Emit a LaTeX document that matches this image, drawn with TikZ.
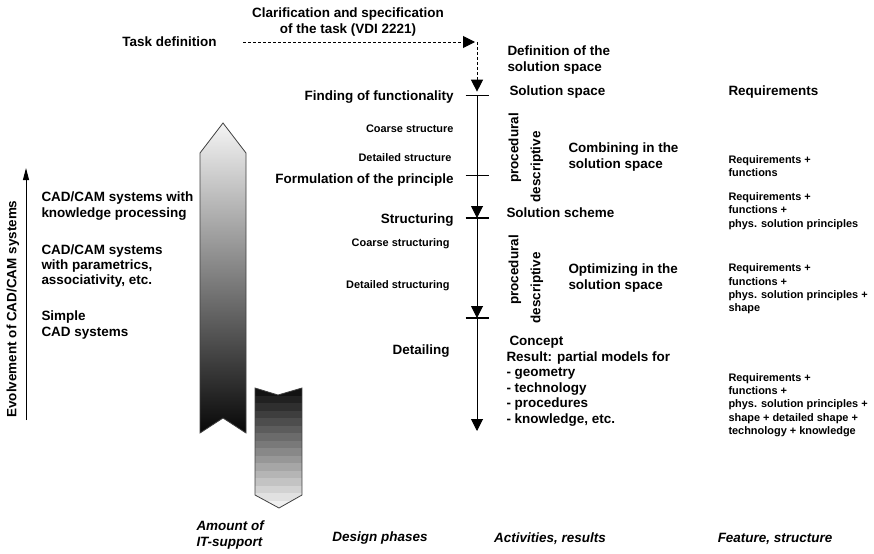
\documentclass[tikz,border=0pt]{standalone}
\usepackage{fontspec}
\setmainfont{Liberation Sans}
\usetikzlibrary{arrows.meta}

\tikzset{every picture/.style={line width=0.75pt}}
\tikzset{
  bigtext/.style={font=\fontsize{10.1}{11.6}\selectfont\bfseries, inner sep=0.75pt},
  smalltext/.style={font=\fontsize{8.2}{10}\selectfont\bfseries, inner sep=0.75pt},
  labeltext/.style={font=\fontsize{10.1}{11.6}\selectfont\bfseries\itshape, inner sep=0.75pt},
  tiptri/.style={-{Triangle[width=9pt,length=9pt]}},
  thicktick/.style={line width=1.6pt},
  arrowrim/.style={draw=black!75, line width=0.6pt},
}

\begin{document}
\begin{tikzpicture}[x=0.75pt,y=0.75pt,yscale=-1,xscale=1]
\useasboundingbox (0,0) rectangle (874,553);

%Coordinates of the phase line
\coordinate (dstart) at (243,42);
\coordinate (corner) at (477,42);
\coordinate (t0) at (477,95);
\coordinate (t1) at (477,175);
\coordinate (t2) at (477,218);
\coordinate (t3) at (477,318);
\coordinate (tend) at (477,431);

%Dashed Lines
\draw [dash pattern={on 2.25pt off 1.5pt}, tiptri, shorten >=1.5] (dstart) -- (corner);
\draw [dash pattern={on 2.25pt off 1.5pt}, tiptri, shorten >=2.5] (corner) -- (t0);

%Straight Lines
\draw [tiptri] (t0) -- (t2);
\draw [tiptri] (t2) -- (t3);
\draw [tiptri] (t3) -- (tend);
\draw (t0) ++(-11.5,0) -- ++(23,0);
\draw (t1) ++(-11.5,0) -- ++(23,0);
\draw [thicktick] (t2) ++(-11.5,0) -- ++(23,0);
\draw [thicktick] (t3) ++(-11.5,0) -- ++(23,0);

%Shape: Up Arrow
\shade [top color=black!4, bottom color=black!97] (223,123) -- (246,153) -- (246,433) -- (223,418) -- (200,433) -- (200,153) -- cycle;
\draw [arrowrim] (223,123) -- (246,153) -- (246,433) -- (223,418) -- (200,433) -- (200,153) -- cycle;

%Shape: Down Arrow
\begin{scope}
\clip (255,388) -- (278,395) -- (302,388) -- (302,495) -- (279,508) -- (255,495) -- cycle;
\foreach \i in {0,...,15} {
  \pgfmathsetmacro\bandval{93-5.8*\i}
  \fill [black!\bandval] (255,388+7.5*\i) rectangle (302,396+7.5*\i);
}
\end{scope}
\draw [arrowrim] (255,388) -- (278,395) -- (302,388) -- (302,495) -- (279,508) -- (255,495) -- cycle;

%Evolvement arrow
\coordinate (evbot) at (26,420);
\coordinate (evtop) at (26,168);
\draw [-{Triangle[width=4.5pt,length=9pt]}] (evbot) -- (evtop);

% Text Node
\draw (348,22) node [bigtext, align=center] (clarif) {Clarification and specification\\of the task (VDI 2221)};
% Text Node
\draw (218,42) node [bigtext, anchor=east] (taskdef) {Task definition};
% Text Node
\draw (506,60) node [bigtext, anchor=west, align=left] (defsol) {Definition of the\\solution space};
% Text Node
\draw (455,97) node [bigtext, anchor=east] (finding) {Finding of functionality};
% Text Node
\draw (455,129) node [smalltext, anchor=east] (coarse) {Coarse structure};
% Text Node
\draw (453,158) node [smalltext, anchor=east] (detailed) {Detailed structure};
% Text Node
\draw (455,180) node [bigtext, anchor=east] (formul) {Formulation of the principle};
% Text Node
\draw (455,220) node [bigtext, anchor=east] (struct) {Structuring};
% Text Node
\draw (451,244) node [smalltext, anchor=east] (coarsestr) {Coarse structuring};
% Text Node
\draw (451,286) node [smalltext, anchor=east] (detailedstr) {Detailed structuring};
% Text Node
\draw (451,351) node [bigtext, anchor=east] (detailing) {Detailing};

% Text Node
\draw (508,92) node [bigtext, anchor=west] (solspace) {Solution space};
% Text Node
\draw (727,92) node [bigtext, anchor=west] (reqhead) {Requirements};
% Text Node
\draw (515,148) node [bigtext, rotate=90] (procA) {procedural};
% Text Node
\draw (537,167) node [bigtext, rotate=90] (descA) {descriptive};
% Text Node
\draw (567,157) node [bigtext, anchor=west, align=left] (combining) {Combining in the\\solution space};
% Text Node
\draw (727,166) node [smalltext, anchor=west, align=left] (reqA) {Requirements +\\functions};
% Text Node
\draw (505,213) node [bigtext, anchor=west] (solscheme) {Solution scheme};
% Text Node
\draw (727,211) node [smalltext, anchor=west, align=left] (reqB) {Requirements +\\functions +\\phys. solution principles};
% Text Node
\draw (515,270) node [bigtext, rotate=90] (procB) {procedural};
% Text Node
\draw (537,288) node [bigtext, rotate=90] (descB) {descriptive};
% Text Node
\draw (567,278) node [bigtext, anchor=west, align=left] (optimizing) {Optimizing in the\\solution space};
% Text Node
\draw (727,289) node [smalltext, anchor=west, align=left] (reqC) {Requirements +\\functions +\\phys. solution principles +\\shape};
% Text Node
\draw (508,342) node [bigtext, anchor=west] (concept) {Concept};
% Text Node
\draw (505,389) node [bigtext, anchor=west, align=left] (result) {Result: partial models for\\- geometry\\- technology\\- procedures\\- knowledge, etc.};
% Text Node
\draw (727,405) node [smalltext, anchor=west, align=left] (reqD) {Requirements +\\functions +\\phys. solution principles +\\shape + detailed shape +\\technology + knowledge};

% Text Node
\draw (13,309) node [bigtext, rotate=90] (evolve) {Evolvement of CAD/CAM systems};
% Text Node
\draw (40,206) node [bigtext, anchor=west, align=left] (cadknow) {CAD/CAM systems with\\knowledge processing};
% Text Node
\draw (40,266) node [bigtext, anchor=west, align=left] (cadparam) {CAD/CAM systems\\with parametrics,\\associativity, etc.};
% Text Node
\draw (40,325) node [bigtext, anchor=west, align=left] (cadsimple) {Simple\\CAD systems};

% Text Node
\draw (195,535) node [labeltext, anchor=west, align=left] (amount) {Amount of\\IT-support};
% Text Node
\draw (380,538) node [labeltext] (designph) {Design phases};
% Text Node
\draw (550,539) node [labeltext] (activ) {Activities, results};
% Text Node
\draw (775,539) node [labeltext] (feature) {Feature, structure};

\end{tikzpicture}
\end{document}
